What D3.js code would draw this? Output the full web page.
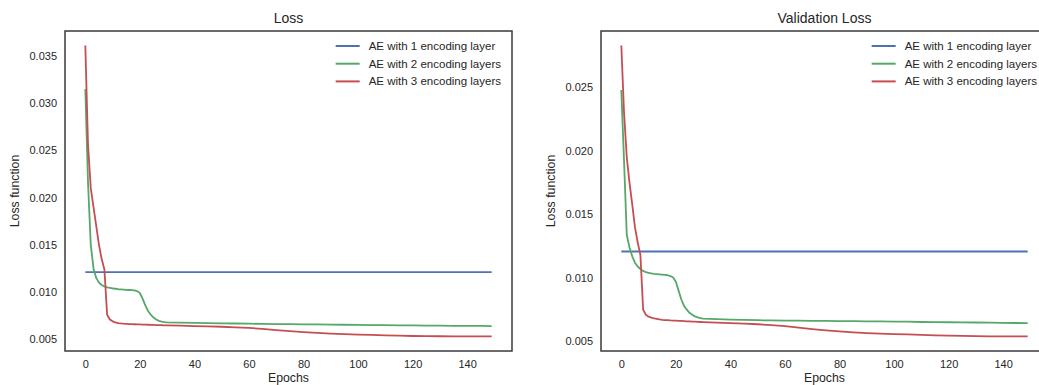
<!DOCTYPE html>
<html lang="en">
<head>
<meta charset="utf-8" />
<title>Loss / Validation Loss</title>
<script src="https://d3js.org/d3.v7.min.js"></script>
<style>
  body { margin: 0; background: #fff; font-family: "Liberation Sans", Arial, Helvetica, sans-serif; }
  svg  { display: block; }
  text { fill: #262626; }
  .tick text  { font-size: 11px; }
  .axtitle    { font-size: 14px; text-anchor: middle; }
  .axlabel    { font-size: 12.3px; text-anchor: middle; }
  .legend text{ font-size: 11.5px; }
  .frame      { fill: none; stroke: #3a3a3a; stroke-width: 1.5px; }
  .series     { fill: none; stroke-width: 1.8px; stroke-linejoin: round; }
</style>
</head>
<body>
<svg id="chart" width="1039" height="385"></svg>
<script>
/* ── data ──────────────────────────────────────────────── */
const seriesNames = ["AE with 1 encoding layer", "AE with 2 encoding layers", "AE with 3 encoding layers"];
const seriesColors = ["#4C72B0", "#55A868", "#C44E52"];

// epochs where the 2- and 3-layer curves were sampled
const epochs = [0,1,2,3,4,5,6,7,8,9,10,11,12,13,14,15,16,17,18,19,20,21,22,23,24,25,26,27,28,29,30,
                35,40,45,50,55,60,65,70,75,80,85,90,95,100,105,110,115,120,125,130,135,140,145,149];
// the 1-layer model stays flat
const blueEpochs = [0, 25, 50, 75, 100, 125, 149];

const lossBlue  = [0.01212, 0.01212, 0.01212, 0.01212, 0.01212, 0.01212, 0.01212];
const lossGreen = [0.0315,0.0215,0.0150,0.0125,0.0115,0.0110,0.01075,0.0106,0.0105,0.01045,0.0104,0.01035,0.0103,0.01028,0.01026,0.01024,0.01022,0.0102,0.01018,0.0101,0.0099,
                   0.0093,0.0086,0.0080,0.0076,0.0073,0.0071,0.00695,0.00687,0.00682,0.0068,
                   0.00676,0.00673,0.00671,0.00669,0.00667,0.00665,0.00663,0.00661,0.0066,0.00658,0.00657,0.00655,0.00654,0.00652,0.00651,0.00649,0.00648,0.00647,0.00645,0.00644,0.00643,0.00642,0.00641,0.0064];
const lossRed   = [0.0361,0.0255,0.0210,0.0190,0.0170,0.0150,0.0135,0.0124,0.0076,0.0071,0.0069,0.0068,0.00672,0.00668,0.00665,0.00663,0.00661,0.0066,0.00659,0.00658,0.00657,
                   0.00656,0.00655,0.00654,0.00653,0.00652,0.00651,0.0065,0.00649,0.00648,0.00647,
                   0.00644,0.0064,0.00637,0.00633,0.00627,0.0062,0.0061,0.00598,0.00586,0.00576,0.00568,0.00561,0.00555,0.0055,0.00546,0.00542,0.00538,0.00535,0.00533,0.00532,0.00531,0.0053,0.0053,0.0053];

const valBlue  = [0.01208, 0.01208, 0.01208, 0.01208, 0.01208, 0.01208, 0.01208];
const valGreen = [0.0248,0.0192,0.0134,0.0124,0.0117,0.0112,0.0109,0.0107,0.01055,0.01045,0.0104,0.01035,0.01032,0.0103,0.01028,0.01026,0.01024,0.01021,0.01015,0.01003,0.0097,
                  0.0090,0.0083,0.0078,0.0075,0.00725,0.0071,0.00697,0.00689,0.00683,0.0068,
                  0.00675,0.00671,0.00669,0.00667,0.00665,0.00664,0.00663,0.00662,0.00661,0.0066,0.00659,0.00658,0.00657,0.00656,0.00655,0.00653,0.00652,0.00651,0.0065,0.00649,0.00648,0.00646,0.00645,0.00644];
const valRed   = [0.0283,0.0230,0.0195,0.0175,0.0158,0.0140,0.0128,0.0118,0.0075,0.0071,0.00695,0.00688,0.00682,0.00678,0.00673,0.0067,0.00668,0.00667,0.00665,0.00664,0.00663,
                  0.00662,0.00661,0.0066,0.00658,0.00657,0.00656,0.00655,0.00654,0.00653,0.00652,
                  0.00648,0.00644,0.0064,0.00635,0.00628,0.0062,0.00608,0.00597,0.00587,0.00579,0.00571,0.00565,0.00561,0.00558,0.00555,0.00552,0.00548,0.00545,0.00543,0.00541,0.0054,0.0054,0.00539,0.00539];

const xTicks     = [0, 20, 40, 60, 80, 100, 120, 140];
const lossYTicks = [0.005, 0.010, 0.015, 0.020, 0.025, 0.030, 0.035];
const valYTicks  = [0.005, 0.010, 0.015, 0.020, 0.025];

/* ── panels ────────────────────────────────────────────── */
const svg = d3.select("#chart");

const panels = [
  { title: "Loss",            left: 65,  blue: lossBlue, green: lossGreen, red: lossRed, yTicks: lossYTicks },
  { title: "Validation Loss", left: 601, blue: valBlue,  green: valGreen,  red: valRed,  yTicks: valYTicks }
];
const axTop = 31, W = 447, H = 320;

panels.forEach((p, i) => {
  const g = svg.append("g").attr("transform", `translate(${p.left},${axTop})`);

  // matplotlib-style 5% margins around the data
  const xPad = 149 * 0.05;
  const x = d3.scaleLinear().domain([-xPad, 149 + xPad]).range([0, W]);
  const allY = p.blue.concat(p.green, p.red);
  const [ymin, ymax] = d3.extent(allY);
  const yPad = (ymax - ymin) * 0.05;
  const y = d3.scaleLinear().domain([ymin - yPad, ymax + yPad]).range([H, 0]);

  // axes without tick marks (seaborn white)
  g.append("g").attr("transform", `translate(0,${H})`)
    .call(d3.axisBottom(x).tickValues(xTicks).tickSize(0).tickPadding(9).tickFormat(d3.format("d")))
    .call(a => a.select(".domain").remove());
  g.append("g")
    .call(d3.axisLeft(y).tickValues(p.yTicks).tickSize(0).tickPadding(8).tickFormat(d3.format(".3f")))
    .call(a => a.select(".domain").remove());
  g.selectAll(".tick text").attr("fill", "#262626").style("font-family", "'Liberation Sans', Arial, sans-serif");

  // lines
  const clipId = "clip" + i;
  g.append("clipPath").attr("id", clipId).append("rect").attr("width", W).attr("height", H);
  const lines = g.append("g").attr("clip-path", `url(#${clipId})`);

  const series = [
    { xs: blueEpochs, ys: p.blue,  color: seriesColors[0] },
    { xs: epochs,     ys: p.green, color: seriesColors[1] },
    { xs: epochs,     ys: p.red,   color: seriesColors[2] }
  ];
  series.forEach(s => {
    const pts = s.xs.map((e, k) => [e, s.ys[k]]);
    lines.append("path")
      .attr("class", "series")
      .attr("stroke", s.color)
      .attr("d", d3.line().x(d => x(d[0])).y(d => y(d[1]))(pts));
  });

  // frame
  g.append("rect").attr("class", "frame").attr("width", W).attr("height", H);

  // titles and labels
  g.append("text").attr("class", "axtitle").attr("x", W / 2).attr("y", -8).text(p.title);
  g.append("text").attr("class", "axlabel").attr("x", W / 2).attr("y", H + 30.5).text("Epochs");
  g.append("text").attr("class", "axlabel")
    .attr("transform", `translate(${-46},${H / 2}) rotate(-90)`).text("Loss function");

  // legend, anchored to the upper right corner
  const leg = g.append("g").attr("class", "legend");
  const texts = seriesNames.map((name, k) =>
    leg.append("text").attr("y", 15 + k * 17.7 + 4).text(name));
  const maxW = d3.max(texts, t => t.node().getComputedTextLength());
  const tx = W - 11 - maxW;
  texts.forEach(t => t.attr("x", tx));
  seriesNames.forEach((name, k) => {
    leg.append("line")
      .attr("x1", tx - 33).attr("x2", tx - 9)
      .attr("y1", 15 + k * 17.7).attr("y2", 15 + k * 17.7)
      .attr("stroke", seriesColors[k]).attr("stroke-width", 2);
  });
});
</script>
</body>
</html>
